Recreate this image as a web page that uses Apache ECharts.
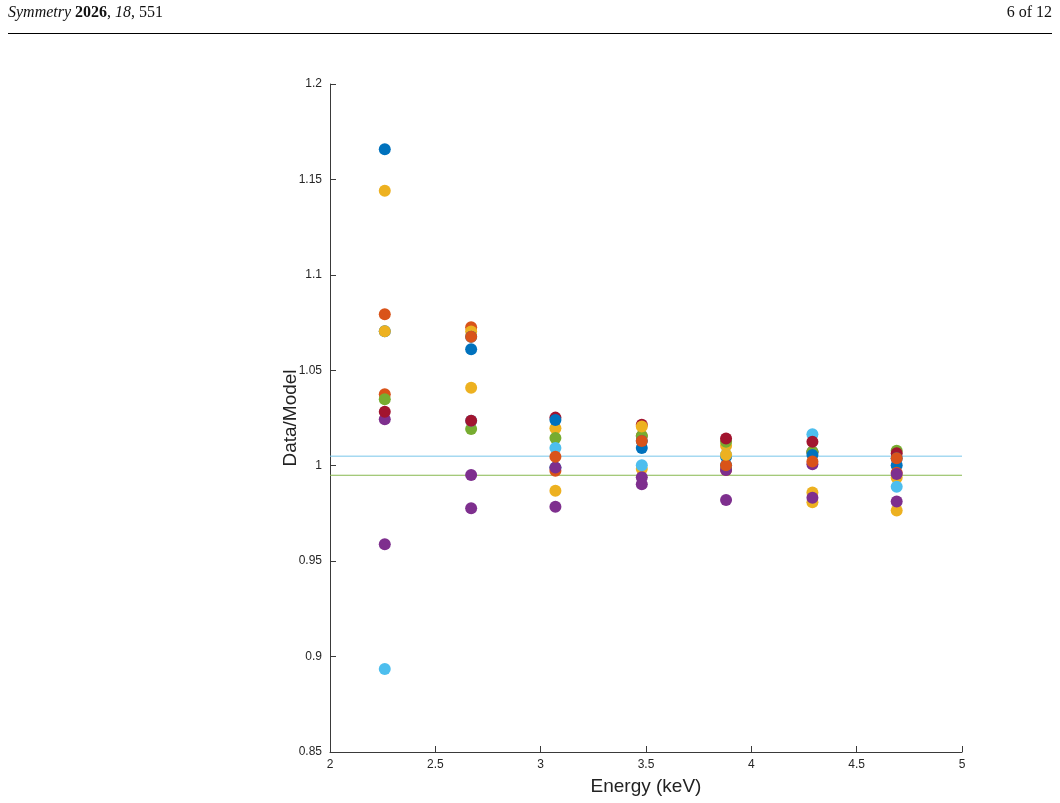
<!DOCTYPE html>
<html>
<head>
<meta charset="utf-8">
<script src="https://cdn.jsdelivr.net/npm/echarts@6/dist/echarts.min.js"></script>
<style>
  html, body { margin: 0; padding: 0; background: #fff; }
  #chart { width: 1060px; height: 803px; }
</style>
</head>
<body>
<div id="chart"></div>
<script>
// energy bins (keV)
const energies = [2.26, 2.67, 3.07, 3.48, 3.88, 4.29, 4.69];

// data/model ratio per spectrum, one value per energy bin
const spec1 = [1.1658, 1.061, 0.999, 1.0093, 1.0047, 1.0072, 1.0003];
const spec2 = [1.0374, 1.0725, 0.9974, 1.0156, 0.9978, 1.0072, 0.9963];
const spec3 = [1.1441, 1.0703, 1.0196, 0.9983, 1.0105, 0.986, 0.9937];
const spec4 = [1.0243, 0.9951, 0.999, 0.994, 0.9978, 1.0008, 0.9957];
const spec5 = [1.0348, 1.0192, 1.0145, 1.0156, 1.0125, 1.0072, 1.0078];
const spec6 = [0.8935, 1.0236, 1.0093, 1.0003, 1.0058, 1.0165, 0.989];
const spec7 = [1.0283, 1.0236, 1.0252, 1.0215, 1.0143, 1.0126, 1.0065];
const spec8 = [1.0704, 1.0676, 1.024, 1.013, 1.0002, 1.0056, 1.0039];
const spec9 = [1.0793, 1.0676, 1.0047, 1.013, 1.0002, 1.0022, 1.0039];
const spec10 = [1.0704, 1.0409, 0.9869, 1.0205, 1.0058, 0.9808, 0.9765];
const spec11 = [0.9588, 0.9777, 0.9785, 0.9903, 0.982, 0.9832, 0.9812];

const spectra = [spec1, spec2, spec3, spec4, spec5, spec6, spec7, spec8, spec9, spec10, spec11];

// MATLAB default colour order, cycling
const palette = ['#0072BD', '#D95319', '#EDB120', '#7E2F8E', '#77AC30', '#4DBEEE', '#A2142F'];

// +/- 0.5% reference band
const bandLevels = [1.005, 0.995];
const bandColors = ['#79c6ea', '#86b84f'];
const xRange = [2, 5];

const FONT = 'Liberation Sans, Arial, Helvetica, sans-serif';
const SERIF = 'Liberation Serif, DejaVu Serif, serif';
const AXIS_COLOR = '#3a3a3a';

const chart = echarts.init(document.getElementById('chart'));

const bandSeries = bandLevels.map((lvl, i) => ({
  type: 'line',
  data: xRange.map((x) => [x, lvl]),
  symbol: 'none',
  silent: true,
  lineStyle: { color: bandColors[i], width: 1 },
  z: 1,
}));

const dotSeries = spectra.map((vals, i) => ({
  type: 'scatter',
  name: 'spec' + (i + 1),
  data: vals.map((v, k) => [energies[k], v]),
  symbol: 'circle',
  symbolSize: 12,
  itemStyle: { color: palette[i % palette.length], opacity: 1 },
  z: 2 + i,
}));

const option = {
  animation: false,
  backgroundColor: '#fff',
  title: [
    {
      left: 8,
      top: 5,
      padding: 0,
      text: '{i|Symmetry} {b|2026}{r|, }{i|18}{r|, 551}',
      textStyle: {
        fontWeight: 'normal',
        fontFamily: SERIF,
        fontSize: 16,
        rich: {
          i: { fontFamily: SERIF, fontStyle: 'italic', fontWeight: 'normal', fontSize: 16, color: '#111' },
          b: { fontFamily: SERIF, fontWeight: 'bold', fontSize: 16, color: '#111' },
          r: { fontFamily: SERIF, fontWeight: 'normal', fontSize: 16, color: '#111' },
        },
      },
    },
    {
      right: 8,
      top: 5,
      padding: 0,
      text: '6 of 12',
      textStyle: { fontFamily: SERIF, fontWeight: 'normal', fontSize: 16, color: '#111' },
    },
  ],
  graphic: [
    {
      type: 'line',
      shape: { x1: 8, y1: 33.5, x2: 1052, y2: 33.5 },
      style: { stroke: '#000', lineWidth: 1 },
    },
  ],
  grid: { left: 330, right: 98, top: 84, bottom: 51, containLabel: false },
  xAxis: {
    type: 'value',
    min: 2,
    max: 5,
    interval: 0.5,
    name: 'Energy (keV)',
    nameLocation: 'middle',
    nameGap: 25,
    nameTextStyle: { fontFamily: FONT, fontSize: 19, color: '#222' },
    axisLine: { show: true, onZero: false, lineStyle: { color: AXIS_COLOR, width: 1 } },
    axisTick: { show: true, inside: true, length: 6, lineStyle: { color: AXIS_COLOR } },
    axisLabel: { fontFamily: FONT, fontSize: 12, color: '#262626', margin: 7 },
    splitLine: { show: false },
  },
  yAxis: {
    type: 'value',
    min: 0.85,
    max: 1.2,
    interval: 0.05,
    name: 'Data/Model',
    nameLocation: 'middle',
    nameGap: 30,
    nameMoveOverlap: false,
    nameTextStyle: { fontFamily: FONT, fontSize: 19, color: '#222' },
    axisLine: { show: true, onZero: false, lineStyle: { color: AXIS_COLOR, width: 1 } },
    axisTick: { show: true, inside: true, length: 6, lineStyle: { color: AXIS_COLOR } },
    axisLabel: {
      fontFamily: FONT,
      fontSize: 12,
      color: '#262626',
      margin: 8,
      formatter: (v) => String(parseFloat(v.toFixed(2))),
    },
    splitLine: { show: false },
  },
  series: [...bandSeries, ...dotSeries],
};

chart.setOption(option);
</script>
</body>
</html>
